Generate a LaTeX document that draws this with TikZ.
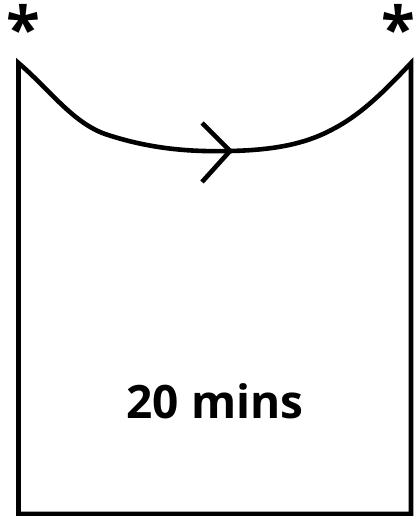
\documentclass[tikz,border=0pt]{standalone}
\usepackage{fontspec}
\setmainfont{Open Sans}
\usetikzlibrary{positioning}

\tikzset{
  outline/.style={line width=4.6pt, line join=miter},
  star/.style={font=\fontsize{62}{62}\selectfont\bfseries, inner sep=0pt},
  label/.style={font=\fontsize{46}{50}\selectfont\bfseries, inner sep=0pt}
}

\begin{document}
\begin{tikzpicture}[x=1pt, y=-1pt]
  \useasboundingbox (0,0) rectangle (414,516);

  % corners of the cup
  \coordinate (tl) at (18.5,63);
  \coordinate (tr) at (411,63);
  \coordinate (bl) at (18.5,514);
  \coordinate (br) at (411,514);
  \coordinate (tip) at (230,151);

  % stars at top corners
  \node[star] (sl) at (23,28) {*};
  \node[star] (sr) at (398,28) {*};

  % outline with curved top
  \draw[outline] (tl) .. controls (50,90) and (72,122) .. (105,134)
    .. controls (150,149) and (190,152) .. (tip)
    .. controls (280,150) and (310,142) .. (335,128)
    .. controls (365,112) and (390,85) .. (tr)
    -- (br) -- (bl) -- cycle;

  % direction mark
  \draw[outline] (202,123) -- (tip) -- (202,182);

  \node[label] (mins) at (215,401) {20 mins};
\end{tikzpicture}
\end{document}
